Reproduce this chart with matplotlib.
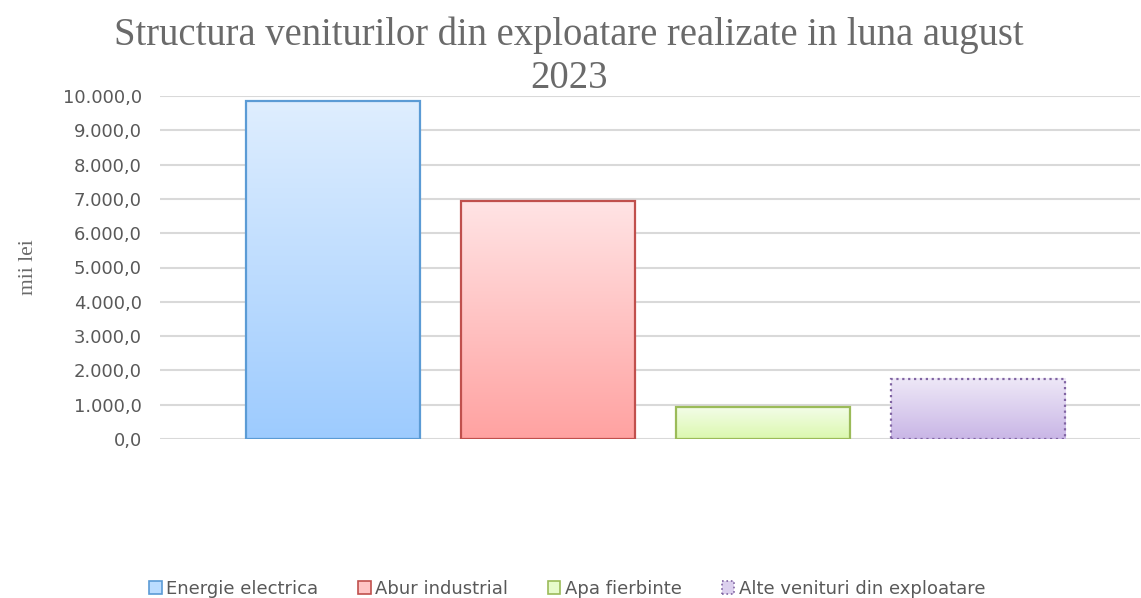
import numpy as np
import matplotlib
matplotlib.use("Agg")
import matplotlib.pyplot as plt
from matplotlib.patches import Patch
from matplotlib.colors import LinearSegmentedColormap
from matplotlib.ticker import FuncFormatter

# Data
categories = ['Energie electrica', 'Abur industrial', 'Apa fierbinte', 'Alte venituri din exploatare']
values = [9850, 6940, 930, 1750]
title_lines = ['Structura veniturilor din exploatare realizate in luna august', '2023']
y_label = 'mii lei'

# gradient top/bottom colours and edge colours per bar
top_colors = ['#DFEEFF', '#FFE4E5', '#F3FDE8', '#EEE8F7']
bottom_colors = ['#9DCBFE', '#FFA2A1', '#DBF8AE', '#C9B6E6']
legend_colors = ['#BBDCFF', '#FFC4C4', '#E7FBCB', '#DCD0EE']
edge_colors = ['#5B9BD5', '#C0504D', '#9BBB59', '#8064A2']
edge_styles = ['-', '-', '-', ':']

gray = '#595959'

fig = plt.figure(figsize=(11.41, 5.98), dpi=100)
ax = fig.add_axes([160 / 1141, 159 / 598, 980 / 1141, 343 / 598])

x = np.arange(len(categories))
width = 0.81

for i in range(len(categories)):
    cmap = LinearSegmentedColormap.from_list('g%d' % i, [bottom_colors[i], top_colors[i]])
    grad = np.linspace(0, 1, 256).reshape(-1, 1)
    ax.imshow(grad, cmap=cmap, origin='lower', aspect='auto', zorder=2,
              extent=[x[i] - width / 2, x[i] + width / 2, 0, values[i]])
    ax.bar(x[i], values[i], width=width, fill=False, edgecolor=edge_colors[i],
           linewidth=1.6, linestyle=edge_styles[i], zorder=3)

ax.set_xlim(-0.805, 3.753)
ax.set_ylim(0, 10000)
ax.set_yticks(np.arange(0, 10001, 1000))
ax.yaxis.set_major_formatter(FuncFormatter(
    lambda v, p: '{:,.1f}'.format(v).replace(',', ' ').replace('.', ',').replace(' ', '.')))
ax.set_xticks([])
ax.tick_params(axis='y', length=0, labelsize=13, labelcolor=gray, pad=13)
ax.grid(axis='y', color='#D9D9D9', linewidth=1.5, zorder=0)
ax.set_axisbelow(True)
for s in ax.spines.values():
    s.set_visible(False)

ax.set_ylabel(y_label, family='Liberation Serif', fontsize=15.5, color='#6A6A6A', labelpad=18)

# title, one text per line to place the baselines
fig.text(0.4986, 1 - 45 / 598, title_lines[0], ha='center', va='baseline',
         family='Liberation Serif', fontsize=27.8, color='#6A6A6A')
fig.text(0.4986, 1 - 88 / 598, title_lines[1], ha='center', va='baseline',
         family='Liberation Serif', fontsize=27.8, color='#6A6A6A')

handles = [Patch(facecolor=legend_colors[i], edgecolor=edge_colors[i],
                 linestyle=edge_styles[i], linewidth=1.2) for i in range(len(categories))]
fig.legend(handles, categories, loc='center', bbox_to_anchor=(0.497, 0.015), ncol=4,
           frameon=False, fontsize=13, handlelength=0.7, handleheight=0.7,
           handletextpad=0.25, columnspacing=2.2, labelcolor=gray)

fig.savefig('out.png', dpi=100)
